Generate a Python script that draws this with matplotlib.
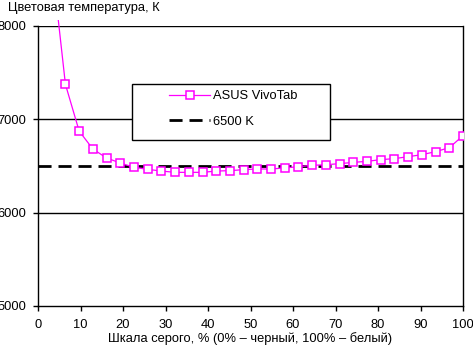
import numpy as np
import matplotlib
matplotlib.use("Agg")
import matplotlib.pyplot as plt
from matplotlib.patches import Rectangle

plt.rcParams['font.family'] = ['Liberation Sans', 'DejaVu Sans']

# Grey-scale steps (32 levels, 0..100 %), first level omitted
gray = np.arange(1, 32) * 100 / 31
temp_asus = [8700, 7375, 6875, 6682, 6586, 6532, 6486, 6464, 6446, 6432,
             6432, 6432, 6446, 6450, 6461, 6468, 6468, 6479, 6493, 6507,
             6514, 6525, 6539, 6550, 6568, 6579, 6600, 6621, 6654, 6696,
             6825]
ref_temp = 6500
series_label = "ASUS VivoTab"
ref_label = "6500 K"
x_ticks = list(range(0, 101, 10))
y_ticks = [5000, 6000, 7000, 8000]

FS = 9.3
W, H = 473, 349

fig = plt.figure(figsize=(W / 100, H / 100), dpi=100)
ax = fig.add_axes([38 / W, 43 / H, 425 / W, 280 / H])

ax.set_xlim(0, 100)
ax.set_ylim(5000, 8000)
ax.set_xticks(x_ticks)
ax.set_yticks(y_ticks)
ax.tick_params(axis='both', direction='out', length=3.6, width=1,
               colors='black', labelsize=FS)
ax.tick_params(axis='x', pad=5.5)
ax.tick_params(axis='y', pad=4.5)

for s in ['left', 'right', 'bottom']:
    ax.spines[s].set_color('black')
    ax.spines[s].set_linewidth(1)
ax.spines['top'].set_visible(False)

for v in y_ticks[1:]:
    ax.axhline(v, color='black', lw=1, zorder=1)

ref_line, = ax.plot([0, 100], [ref_temp, ref_temp], color='black', lw=2,
                    dashes=(4.7, 2.5), zorder=2, label=ref_label)
asus_line, = ax.plot(gray, temp_asus, color='#ff00ff', lw=0.9, marker='s',
                     markersize=5.2, markerfacecolor='white',
                     markeredgecolor='#ff00ff', markeredgewidth=1.1,
                     zorder=3, label=series_label)
clip = Rectangle((0, 0), 1, 1.02, transform=ax.transAxes)
asus_line.set_clip_path(clip)

# Legend box (white, square corners) with entries placed inside it
box = Rectangle(((132 - 38) / 425, (306 - 140) / 280), (330 - 132) / 425,
                (140 - 84) / 280, transform=ax.transAxes, facecolor='white',
                edgecolor='black', lw=1, zorder=5)
ax.add_patch(box)
leg = ax.legend(handles=[asus_line, ref_line], loc='upper left',
                bbox_to_anchor=((169 - 38) / 425, (306 - 90) / 280),
                frameon=False, fontsize=FS, handlelength=3.2, borderpad=0,
                labelspacing=1.05, handletextpad=0.2, borderaxespad=0)
leg.set_zorder(6)

ax.set_xlabel("Шкала серого, % (0% – черный, 100% – белый)", fontsize=FS,
              labelpad=1)
fig.text(8 / W, 1 - 11 / H, "Цветовая температура, К", fontsize=FS,
         va='baseline', ha='left')

fig.savefig("out.png", dpi=100)
